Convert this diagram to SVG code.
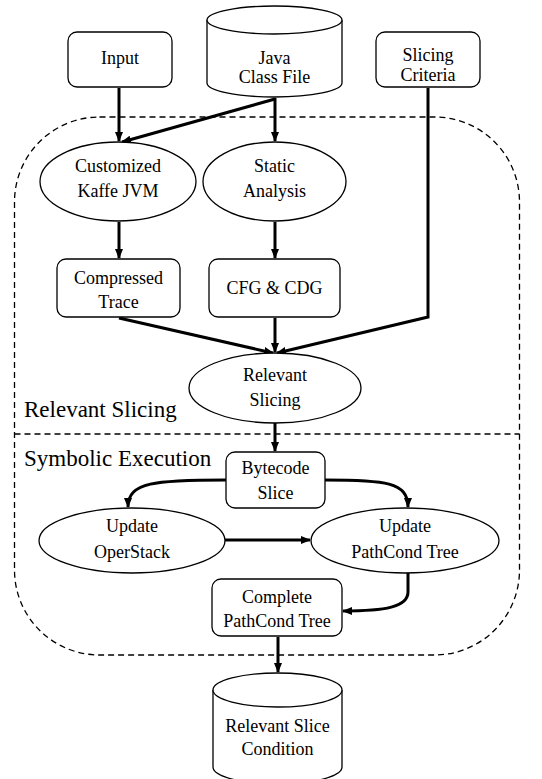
<svg xmlns="http://www.w3.org/2000/svg" width="542" height="779" viewBox="0 0 542 779">
  <defs>
    <marker id="arrow" viewBox="0 0 10 8" markerWidth="10" markerHeight="8" refX="9" refY="4" orient="auto" markerUnits="userSpaceOnUse">
      <path d="M0,0 L10,4 L0,8 z" fill="#000"/>
    </marker>
    <style>
      .shape { fill: #fff; stroke: #000; stroke-width: 1.3; }
      .region { fill: none; stroke: #000; stroke-width: 1.3; stroke-dasharray: 6 4; }
      .edge { fill: none; stroke: #000; stroke-width: 3; marker-end: url(#arrow); }
      text { font-family: "Liberation Serif", "Times New Roman", serif; fill: #000; }
      .lbl { font-size: 18px; text-anchor: middle; }
      .area { font-size: 23px; }
    </style>
  </defs>

  <rect width="542" height="779" fill="#fff"/>

  <!-- phase regions -->
  <g id="regions">
    <rect class="region" x="14.5" y="117" width="505" height="538" rx="85" ry="85"/>
    <line class="region" x1="14.5" y1="434" x2="519.5" y2="434"/>
    <text class="area" x="24" y="417">Relevant Slicing</text>
    <text class="area" x="24" y="466">Symbolic Execution</text>
  </g>

  <!-- connectors -->
  <g id="connectors">
    <path class="edge" d="M119,88 L119,141"/>
    <path class="edge" d="M275,99 L122,142"/>
    <path class="edge" d="M275,98 L275,141"/>
    <path class="edge" d="M119,222 L119,258"/>
    <path class="edge" d="M275,222 L275,258"/>
    <path class="edge" d="M119,318 L273,353"/>
    <path class="edge" d="M275,318 L275,352"/>
    <path class="edge" d="M428,88 L428,317 L277,353"/>
    <path class="edge" d="M275,423 L275,451"/>
    <path class="edge" d="M226,480 C155,480 128,482 128,507"/>
    <path class="edge" d="M325,480 C385,480 408,482 408,507"/>
    <path class="edge" d="M225,540 L310,540"/>
    <path class="edge" d="M408,573 L408,592 C408,607 385,611 343,611"/>
    <path class="edge" d="M278,637 L278,672"/>
  </g>

  <!-- nodes -->
  <g id="input">
    <rect class="shape" x="68" y="32" width="104" height="55" rx="9"/>
    <text class="lbl" x="120" y="64">Input</text>
  </g>

  <g id="java-class-file">
    <path class="shape" d="M207,20 L207,83 A67.5,14 0 0 0 342,83 L342,20"/>
    <ellipse class="shape" cx="274.5" cy="20" rx="67.5" ry="14"/>
    <text class="lbl" x="274.5" y="64">Java</text>
    <text class="lbl" x="274.5" y="83">Class File</text>
  </g>

  <g id="slicing-criteria">
    <rect class="shape" x="376" y="32" width="104" height="55" rx="9"/>
    <text class="lbl" x="428" y="61">Slicing</text>
    <text class="lbl" x="428" y="81">Criteria</text>
  </g>

  <g id="kaffe-jvm">
    <ellipse class="shape" cx="118" cy="181.5" rx="78" ry="39.5"/>
    <text class="lbl" x="118" y="172">Customized</text>
    <text class="lbl" x="118" y="197">Kaffe JVM</text>
  </g>

  <g id="static-analysis">
    <ellipse class="shape" cx="274.5" cy="181.5" rx="71.5" ry="39.5"/>
    <text class="lbl" x="274.5" y="172">Static</text>
    <text class="lbl" x="274.5" y="197">Analysis</text>
  </g>

  <g id="compressed-trace">
    <rect class="shape" x="57" y="259" width="123" height="58" rx="9"/>
    <text class="lbl" x="118.5" y="284">Compressed</text>
    <text class="lbl" x="118.5" y="308">Trace</text>
  </g>

  <g id="cfg-cdg">
    <rect class="shape" x="209" y="259" width="131" height="58" rx="9"/>
    <text class="lbl" x="274.5" y="294">CFG &amp; CDG</text>
  </g>

  <g id="relevant-slicing">
    <ellipse class="shape" cx="275" cy="388" rx="86" ry="35"/>
    <text class="lbl" x="275" y="381">Relevant</text>
    <text class="lbl" x="275" y="406">Slicing</text>
  </g>

  <g id="bytecode-slice">
    <rect class="shape" x="226" y="452" width="99" height="56" rx="9"/>
    <text class="lbl" x="275.5" y="474">Bytecode</text>
    <text class="lbl" x="275.5" y="499">Slice</text>
  </g>

  <g id="update-operstack">
    <ellipse class="shape" cx="132" cy="540.5" rx="93" ry="32.5"/>
    <text class="lbl" x="132" y="532">Update</text>
    <text class="lbl" x="132" y="558">OperStack</text>
  </g>

  <g id="update-pathcond-tree">
    <ellipse class="shape" cx="405" cy="540.5" rx="94" ry="32.5"/>
    <text class="lbl" x="405" y="532">Update</text>
    <text class="lbl" x="405" y="558">PathCond Tree</text>
  </g>

  <g id="complete-pathcond-tree">
    <rect class="shape" x="212" y="579" width="130" height="57" rx="9"/>
    <text class="lbl" x="277" y="603">Complete</text>
    <text class="lbl" x="277" y="627">PathCond Tree</text>
  </g>

  <g id="relevant-slice-condition">
    <path class="shape" d="M213,690 L213,767 A64.5,17 0 0 0 342,767 L342,690"/>
    <ellipse class="shape" cx="277.5" cy="690" rx="64.5" ry="17"/>
    <text class="lbl" x="277.5" y="732">Relevant Slice</text>
    <text class="lbl" x="277.5" y="755">Condition</text>
  </g>
</svg>
